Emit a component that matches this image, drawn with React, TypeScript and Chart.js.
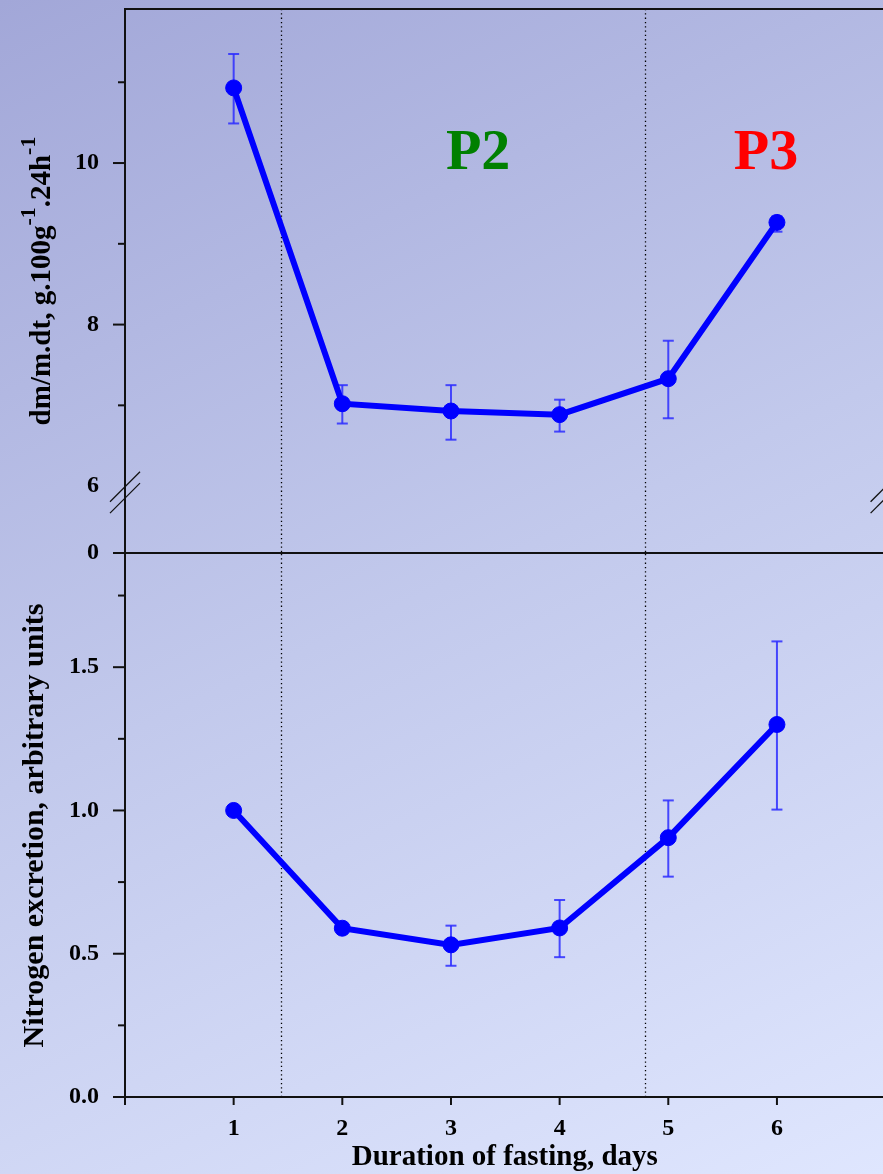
import React, { useEffect, useRef } from 'react';
import { Chart, registerables } from 'chart.js';

Chart.register(...registerables);

// ---------- data ----------
const days = [1, 2, 3, 4, 5, 6];

const growthRate = [10.93, 7.02, 6.93, 6.885, 7.33, 9.265];
const growthHigh = [11.35, 7.25, 7.25, 7.07, 7.8, 9.34];
const growthLow = [10.49, 6.775, 6.575, 6.675, 6.84, 9.15];

const nitrogen = [1.0, 0.589, 0.531, 0.59, 0.905, 1.3];
const nitrogenHigh = [1.0, 0.6, 0.598, 0.6875, 1.035, 1.59];
const nitrogenLow = [1.0, 0.578, 0.458, 0.488, 0.769, 1.003];

const phaseBounds = [1.44, 4.79];
const phaseLabels = ['P2', 'P3'];
const phaseLabelX = [3.25, 5.9];
const phaseLabelY = 9.93;
const phaseColors = ['#008000', '#ff0000'];

const xTicks = [0, 1, 2, 3, 4, 5, 6, 7];
const xLabels = ['', '1', '2', '3', '4', '5', '6', ''];

const TOP_MIN = 5.172;
const TOP_MAX = 11.907;
const topTicks = [6, 7, 8, 9, 10, 11];
const topLabels = ['6', '', '8', '', '10', ''];
const topBreakLabel = '0';

const BOTTOM_MAX = 1.895;
const bottomTicks = [0, 0.25, 0.5, 0.75, 1.0, 1.25, 1.5, 1.75];
const bottomLabels = ['0.0', '', '0.5', '', '1.0', '', '1.5', ''];

const topTitle = [
  { t: 'dm/m.dt, g.100g', sup: false },
  { t: '-1', sup: true },
  { t: '.24h', sup: false },
  { t: '-1', sup: true },
];
const bottomTitle = 'Nitrogen excretion, arbitrary units';
const xTitle = 'Duration of fasting, days';

// ---------- style ----------
const SERIF = "'Liberation Serif', 'Times New Roman', serif";
const CANVAS_W = 900;
const TOP_H = 573;
const BOTTOM_TOP = 545;
const BOTTOM_H = 629;
const AXIS_COLOR = '#111';
const LINE_BLUE = '#0000ff';
const ERR_BLUE = 'rgba(45,45,255,0.85)';

function line(ctx: CanvasRenderingContext2D, x1: number, y1: number, x2: number, y2: number) {
  ctx.beginPath();
  ctx.moveTo(x1, y1);
  ctx.lineTo(x2, y2);
  ctx.stroke();
}

function makeOverlay(kind: 'top' | 'bottom') {
  const hiArr = kind === 'top' ? growthHigh : nitrogenHigh;
  const loArr = kind === 'top' ? growthLow : nitrogenLow;
  return {
    id: 'overlay_' + kind,
    beforeDatasetsDraw(chart: any) {
      const { ctx, chartArea: a } = chart;
      const x = chart.scales.x;
      const y = chart.scales.y;
      ctx.save();
      // phase boundaries (dotted)
      ctx.strokeStyle = '#000';
      ctx.lineWidth = 1.3;
      ctx.setLineDash([1.3, 3]);
      phaseBounds.forEach((v) => {
        const px = Math.round(x.getPixelForValue(v)) + 0.5;
        line(ctx, px, a.top, px, a.bottom);
      });
      ctx.setLineDash([]);
      // error bars
      ctx.strokeStyle = ERR_BLUE;
      ctx.lineWidth = 2;
      days.forEach((d, i) => {
        if (hiArr[i] === loArr[i]) return;
        const px = x.getPixelForValue(d);
        const ph = y.getPixelForValue(hiArr[i]);
        const pl = y.getPixelForValue(loArr[i]);
        line(ctx, px, ph, px, pl);
        line(ctx, px - 5.5, ph, px + 5.5, ph);
        line(ctx, px - 5.5, pl, px + 5.5, pl);
      });
      ctx.restore();
    },
    afterDraw(chart: any) {
      const { ctx, chartArea: a } = chart;
      const x = chart.scales.x;
      const y = chart.scales.y;
      const L = a.left, R = a.right, T = a.top, B = a.bottom;
      ctx.save();
      ctx.strokeStyle = AXIS_COLOR;
      ctx.lineWidth = 2;
      if (kind === 'top') {
        line(ctx, L, T, L, B);
        line(ctx, L - 1, T, R, T);
        line(ctx, R, T, R, B);
        line(ctx, L - 12, B, R, B);
        y.ticks.forEach((t: any) => {
          if (t.value === TOP_MIN || t.value === 6) return;
          const py = y.getPixelForValue(t.value);
          const len = t.label ? 12 : 7;
          line(ctx, L - len, py, L, py);
        });
        // axis break marks
        ctx.lineWidth = 1.3;
        const p6 = y.getPixelForValue(6);
        [0.7, 12].forEach((off) => {
          [L, R].forEach((ax) => {
            line(ctx, ax - 15, p6 + off + 15, ax + 15, p6 + off - 15);
          });
        });
        // phase labels
        ctx.font = `bold 58px ${SERIF}`;
        ctx.textAlign = 'center';
        ctx.textBaseline = 'alphabetic';
        phaseLabels.forEach((lab, i) => {
          ctx.fillStyle = phaseColors[i];
          ctx.fillText(lab, x.getPixelForValue(phaseLabelX[i]), y.getPixelForValue(phaseLabelY));
        });
        // y title with superscripts
        const mainFont = `bold 29px ${SERIF}`;
        const supFont = `bold 22px ${SERIF}`;
        let total = 0;
        const widths = topTitle.map((s) => {
          ctx.font = s.sup ? supFont : mainFont;
          const w = ctx.measureText(s.t).width;
          total += w;
          return w;
        });
        ctx.translate(50, (T + B) / 2);
        ctx.rotate(-Math.PI / 2);
        ctx.fillStyle = '#000';
        ctx.textAlign = 'left';
        let cx = -total / 2;
        topTitle.forEach((s, i) => {
          ctx.font = s.sup ? supFont : mainFont;
          ctx.fillText(s.t, cx, s.sup ? -15 : 0);
          cx += widths[i];
        });
      } else {
        line(ctx, L, T, L, B + 8);
        line(ctx, L - 12, B, R, B);
        line(ctx, R, T, R, B);
        y.ticks.forEach((t: any) => {
          if (t.value === 0) return;
          const py = y.getPixelForValue(t.value);
          const len = t.label ? 12 : 7;
          line(ctx, L - len, py, L, py);
        });
        x.ticks.forEach((t: any) => {
          const px = x.getPixelForValue(t.value);
          line(ctx, px, B, px, B + 8);
        });
        ctx.fillStyle = '#000';
        ctx.textBaseline = 'alphabetic';
        ctx.textAlign = 'center';
        ctx.font = `bold 29px ${SERIF}`;
        ctx.fillText(xTitle, (L + R) / 2 - 0.5, B + 68);
        ctx.font = `bold 30px ${SERIF}`;
        ctx.translate(43, (T + B) / 2);
        ctx.rotate(-Math.PI / 2);
        ctx.fillText(bottomTitle, 0, 0);
      }
      ctx.restore();
    },
  };
}

const tickFont = { family: SERIF, size: 24, weight: 'bold' as const };

function zeroPad(s: any) {
  s.paddingTop = 0;
  s.paddingBottom = 0;
  s.paddingLeft = 0;
  s.paddingRight = 0;
}

function buildConfig(kind: 'top' | 'bottom'): any {
  const values = kind === 'top' ? growthRate : nitrogen;
  return {
    type: 'line',
    data: {
      datasets: [
        {
          data: days.map((d, i) => ({ x: d, y: values[i] })),
          borderColor: LINE_BLUE,
          backgroundColor: LINE_BLUE,
          borderWidth: 6,
          pointRadius: 8,
          pointBackgroundColor: LINE_BLUE,
          pointBorderColor: LINE_BLUE,
          pointBorderWidth: 1,
          tension: 0,
          fill: false,
          clip: false,
        },
      ],
    },
    options: {
      animation: false,
      responsive: false,
      maintainAspectRatio: false,
      events: [],
      layout: {
        padding:
          kind === 'top'
            ? { top: 8, right: CANVAS_W - 885.6, bottom: TOP_H - 553, left: 0 }
            : { top: 8, right: CANVAS_W - 885.6, bottom: 0, left: 0 },
      },
      plugins: { legend: { display: false }, tooltip: { enabled: false }, title: { display: false } },
      scales: {
        x: {
          type: 'linear',
          min: 0,
          max: 7,
          display: kind === 'bottom',
          afterBuildTicks: (s: any) => {
            s.ticks = xTicks.map((v) => ({ value: v }));
          },
          afterFit: (s: any) => {
            s.height = kind === 'bottom' ? 77 : 0;
            zeroPad(s);
          },
          ticks: {
            autoSkip: false,
            maxRotation: 0,
            padding: 17,
            color: '#000',
            font: tickFont,
            callback: (v: number) => {
              const i = xTicks.indexOf(v);
              return i >= 0 ? xLabels[i] : '';
            },
          },
          grid: { display: false, drawTicks: false },
          border: { display: false },
        },
        y: {
          type: 'linear',
          min: kind === 'top' ? TOP_MIN : 0,
          max: kind === 'top' ? TOP_MAX : BOTTOM_MAX,
          afterBuildTicks: (s: any) => {
            s.ticks =
              kind === 'top'
                ? [TOP_MIN, ...topTicks].map((v) => ({ value: v }))
                : bottomTicks.map((v) => ({ value: v }));
          },
          afterFit: (s: any) => {
            s.width = 125;
            zeroPad(s);
          },
          ticks: {
            autoSkip: false,
            padding: 26,
            color: '#000',
            font: tickFont,
            callback: (v: number) => {
              if (kind === 'top') {
                if (v === TOP_MIN) return topBreakLabel;
                const i = topTicks.indexOf(v);
                return i >= 0 ? topLabels[i] : '';
              }
              const j = bottomTicks.indexOf(v);
              return j >= 0 ? bottomLabels[j] : '';
            },
          },
          grid: { display: false, drawTicks: false },
          border: { display: false },
        },
      },
    },
    plugins: [makeOverlay(kind)],
  };
}

export default function App() {
  const topRef = useRef<HTMLCanvasElement | null>(null);
  const bottomRef = useRef<HTMLCanvasElement | null>(null);

  useEffect(() => {
    const c1 = new Chart(topRef.current as HTMLCanvasElement, buildConfig('top'));
    const c2 = new Chart(bottomRef.current as HTMLCanvasElement, buildConfig('bottom'));
    return () => {
      c1.destroy();
      c2.destroy();
    };
  }, []);

  return (
    <div
      style={{
        position: 'absolute',
        left: 0,
        top: 0,
        width: 883,
        height: 1174,
        overflow: 'hidden',
        background: 'linear-gradient(155deg, #a2a7d8 0%, #c2c9ec 50%, #dfe6fe 100%)',
      }}
    >
      <canvas
        ref={topRef}
        width={CANVAS_W}
        height={TOP_H}
        style={{ position: 'absolute', left: 0, top: 0, width: CANVAS_W, height: TOP_H, display: 'block' }}
      />
      <canvas
        ref={bottomRef}
        width={CANVAS_W}
        height={BOTTOM_H}
        style={{ position: 'absolute', left: 0, top: BOTTOM_TOP, width: CANVAS_W, height: BOTTOM_H, display: 'block' }}
      />
    </div>
  );
}
